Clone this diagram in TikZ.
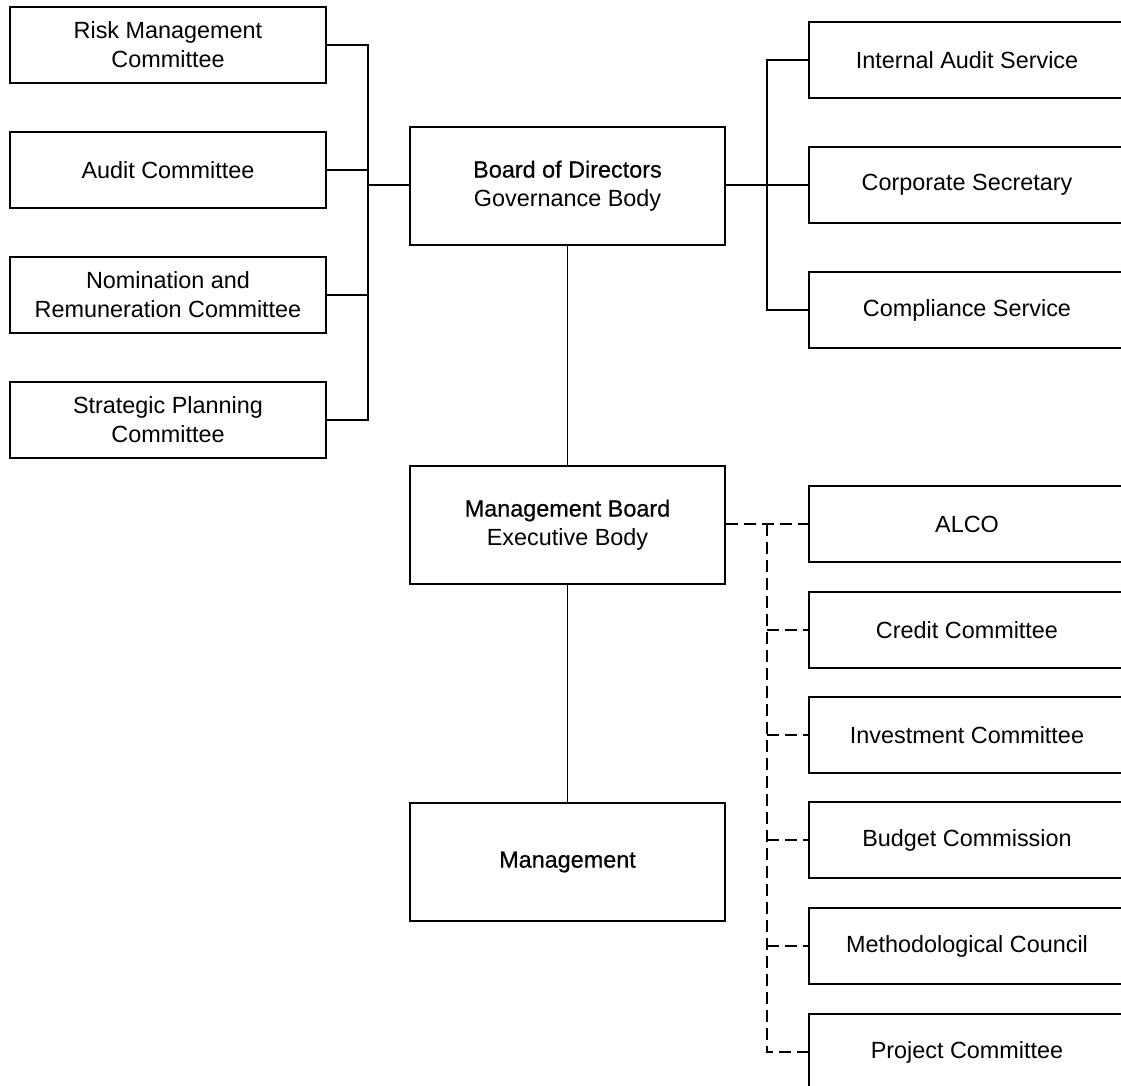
\documentclass[tikz,border=0pt]{standalone}
\usepackage{fontspec}
\setmainfont{Liberation Sans}
\newfontfamily\titlefont[FakeBold=0.6]{Liberation Sans}
\begin{document}
\begin{tikzpicture}[x=1pt,y=-1pt,
  box/.style={draw=black,line width=1.2pt,minimum width=316pt,minimum height=76pt,inner sep=0pt,align=center,font=\fontsize{23.4}{29}\selectfont},
  bigbox/.style={box,minimum width=315pt,minimum height=118pt},
  conn/.style={draw=black,line width=1.1pt},
  dconn/.style={draw=black,line width=2.8pt,dash pattern=on 12pt off 6pt}]
\useasboundingbox (0,0) rectangle (1121,1086);
\clip (0,0) rectangle (1121,1086);
% left committees
\node[box] (rmc) at (168,45) {Risk Management\\Committee};
\node[box] (ac) at (168,170) {Audit Committee};
\node[box] (nrc) at (168,295) {Nomination and\\Remuneration Committee};
\node[box] (spc) at (168,420) {Strategic Planning\\Committee};
% central
\node[bigbox] (bod) at (567.5,186) {{\titlefont Board of Directors}\\Governance Body};
\node[bigbox] (mb) at (567.5,525) {{\titlefont Management Board}\\Executive Body};
\node[bigbox] (mg) at (567.5,862) {\titlefont Management};
% right upper
\node[box] (ias) at (967,60) {Internal Audit Service};
\node[box] (cs) at (967,185) {Corporate Secretary};
\node[box] (csv) at (967,310) {Compliance Service};
% right lower
\node[box] (alco) at (967,524) {ALCO};
\node[box] (cc) at (967,630) {Credit Committee};
\node[box] (ic) at (967,735) {Investment Committee};
\node[box] (bc) at (967,840) {Budget Commission};
\node[box] (mc) at (967,946) {Methodological Council};
\node[box] (pc) at (967,1052) {Project Committee};
% left connectors
\coordinate (lj) at (368,185);
\draw[conn] (rmc.east) -| (lj);
\draw[conn] (spc.east) -| (lj);
\draw[conn] (ac.east) -- (ac.east -| lj);
\draw[conn] (nrc.east) -- (nrc.east -| lj);
\draw[conn] (lj) -- (lj -| bod.west);
% right upper connectors
\coordinate (rj) at (767,185);
\draw[conn] (cs.west -| bod.east) -- (cs.west);
\draw[conn] (rj) |- (ias.west);
\draw[conn] (rj) |- (csv.west);
% vertical chain
\draw[conn] (bod.south) -- (mb.north);
\draw[conn] (mb.south) -- (mg.north);
% dashed connectors
\coordinate (dj) at (767,524);
\draw[dconn] (alco.west -| mb.east) -- (alco.west);
\draw[dconn] (dj) |- (pc.west);
\draw[dconn] (cc.west -| dj) -- (cc.west);
\draw[dconn] (ic.west -| dj) -- (ic.west);
\draw[dconn] (bc.west -| dj) -- (bc.west);
\draw[dconn] (mc.west -| dj) -- (mc.west);
\end{tikzpicture}
\end{document}
